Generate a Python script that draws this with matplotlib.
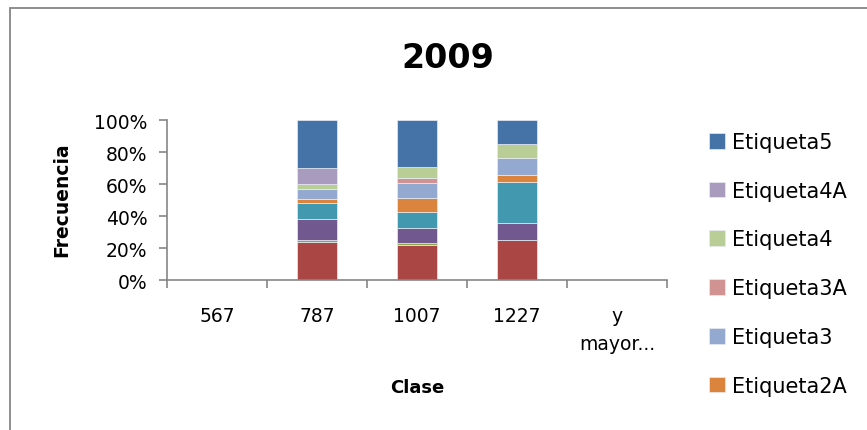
import matplotlib
matplotlib.use("Agg")
import matplotlib.pyplot as plt
import matplotlib.patches as patches
from matplotlib.ticker import PercentFormatter
import numpy as np

# ============================================================
# Data (percent of each class)
# ============================================================
categories = ["567", "787", "1007", "1227", "y\nmayor..."]

series_names = [
    "Etiqueta1B", "Etiqueta1", "Etiqueta1A", "Etiqueta2", "Etiqueta2A",
    "Etiqueta3", "Etiqueta3A", "Etiqueta4", "Etiqueta4A", "Etiqueta5",
]
red_vals = [0, 23.5, 21.6, 25.2, 0]
green_vals = [0, 1.7, 1.3, 0, 0]
purple_vals = [0, 13.0, 9.6, 10.3, 0]
teal_vals = [0, 9.9, 9.9, 25.6, 0]
orange_vals = [0, 2.7, 8.8, 4.8, 0]
lightblue_vals = [0, 5.9, 9.4, 10.5, 0]
pink_vals = [0, 0, 2.9, 0, 0]
lightgreen_vals = [0, 3.1, 7.1, 8.4, 0]
lavender_vals = [0, 10.1, 0, 0, 0]
blue_vals = [0, 30.2, 29.4, 15.3, 0]

colors = ["#AA4643", "#89A54E", "#71588F", "#4198AF", "#DB843D",
          "#93A9CF", "#D19392", "#B9CD96", "#A99BBD", "#4572A7"]

series_vals = np.array([red_vals, green_vals, purple_vals, teal_vals, orange_vals,
                        lightblue_vals, pink_vals, lightgreen_vals, lavender_vals,
                        blue_vals], dtype=float)

totals = series_vals.sum(axis=0)
totals[totals == 0] = 1
shares = series_vals / totals

# ============================================================
# Plot
# ============================================================
plt.rcParams["font.family"] = "DejaVu Sans"
axis_gray = "#868686"

fig = plt.figure(figsize=(8.67, 4.31), dpi=100)
ax = fig.add_axes([0.1926, 0.348, 0.5767, 0.3712])

x = np.arange(len(categories))
bottom = np.zeros(len(categories))
bars = []
for name, vals, c in zip(series_names, shares, colors):
    b = ax.bar(x, vals, 0.4, bottom=bottom, color=c, label=name,
               edgecolor="#e8ecf2", linewidth=0.5)
    bars.append(b)
    bottom += vals

ax.set_xlim(-0.5, len(categories) - 0.5)
ax.set_ylim(0, 1)
ax.set_yticks(np.arange(0, 1.01, 0.2))
ax.yaxis.set_major_formatter(PercentFormatter(xmax=1, decimals=0))
ax.set_xticks(np.arange(-0.5, len(categories), 1.0))
ax.set_xticklabels([])
ax.set_xticks(x, minor=True)
ax.set_xticklabels(categories, minor=True, fontsize=13.5, linespacing=1.6)

for s in ["top", "right"]:
    ax.spines[s].set_visible(False)
for s in ["left", "bottom"]:
    ax.spines[s].set_color(axis_gray)
    ax.spines[s].set_linewidth(1.2)

ax.tick_params(axis="y", which="major", length=6, width=1.2, color=axis_gray,
               labelsize=13.5, pad=8)
ax.tick_params(axis="x", which="major", length=6, width=1.2, color=axis_gray)
ax.tick_params(axis="x", which="minor", length=0, pad=19)

fig.text(0.5167, 0.865, "2009", ha="center", va="center",
         fontsize=24, fontweight="bold")
fig.text(62 / 867, 1 - 200 / 431, "Frecuencia", rotation=90, ha="center",
         va="center", fontsize=13.5, fontweight="bold")
fig.text(417 / 867, 1 - 388 / 431, "Clase", ha="center", va="center",
         fontsize=13, fontweight="bold")

# legend shows only the entries that fit (top of stack first)
handles = [b[0] for b in bars][::-1][:6]
labels = series_names[::-1][:6]
fig.legend(handles, labels, loc="upper left", bbox_to_anchor=(709 / 867, 1 - 133 / 431),
           frameon=False, fontsize=15, handlelength=0.77, handleheight=0.77,
           handletextpad=0.34, labelspacing=1.38, borderpad=0, borderaxespad=0)

# chart border (right and bottom edges fall outside the picture)
fig.patches.append(patches.Rectangle((9.5 / 867, -0.1), 2, 1 - 8.5 / 431 + 0.1,
                                     transform=fig.transFigure, fill=False,
                                     edgecolor=axis_gray, linewidth=1.3))

plt.savefig("out.png", dpi=100)
plt.close()
